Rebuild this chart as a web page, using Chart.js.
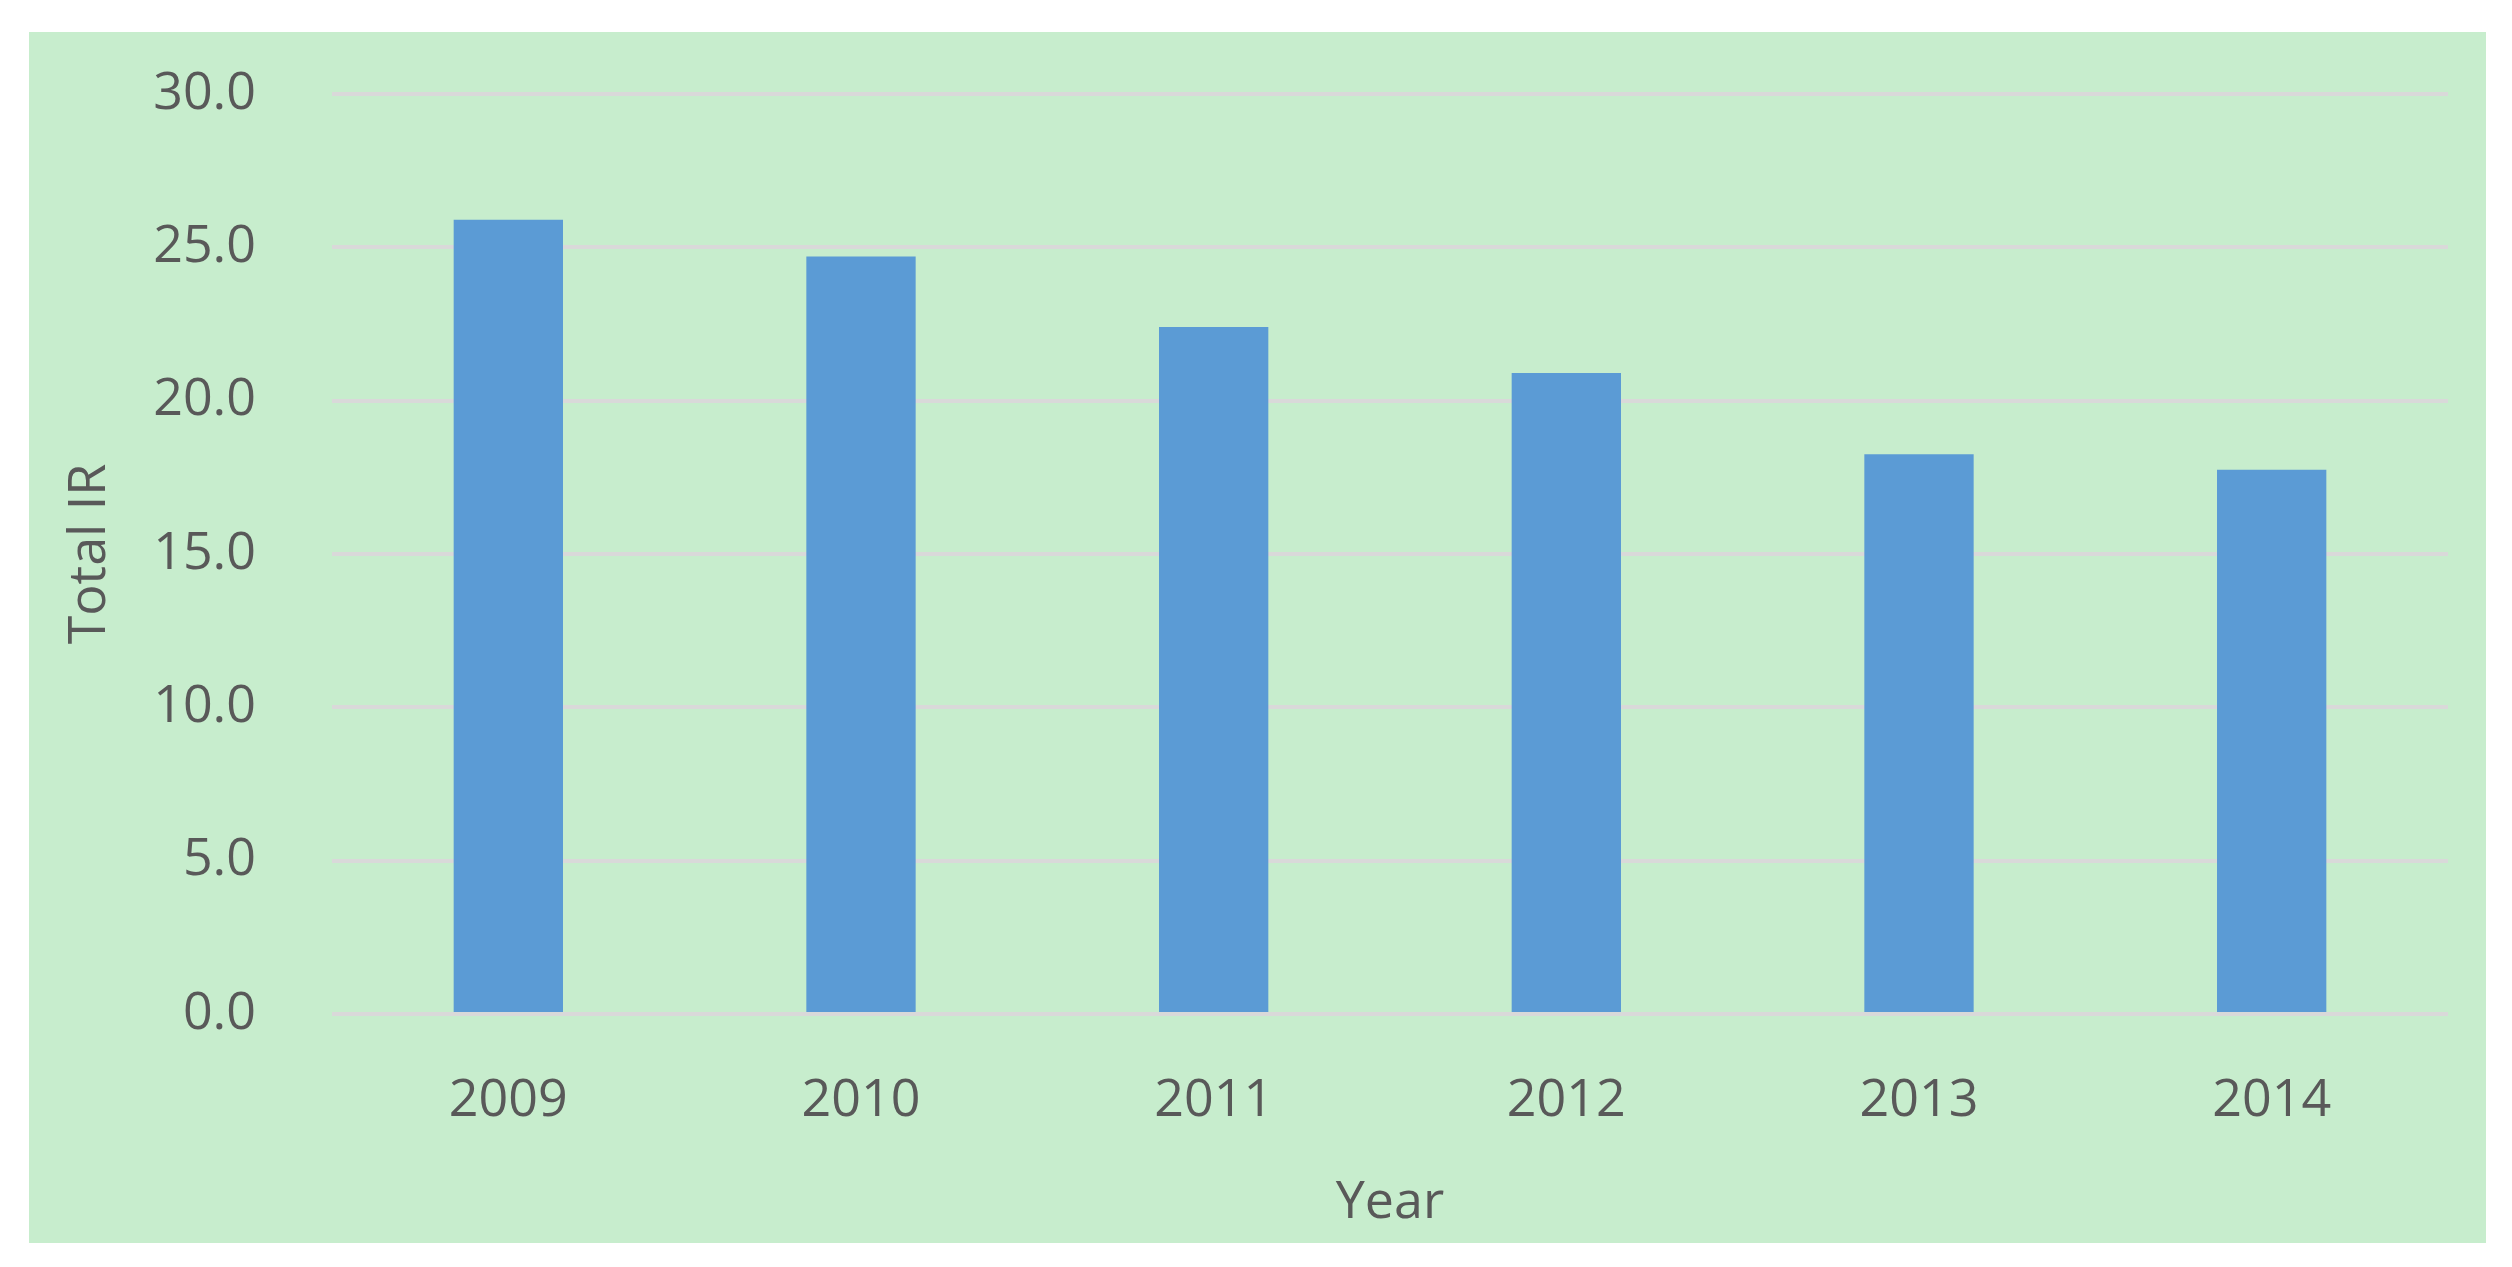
<!DOCTYPE html>
<html>
<head>
<meta charset="utf-8">
<script src="https://cdn.jsdelivr.net/npm/chart.js@4/dist/chart.umd.min.js"></script>
<style>
  body { margin: 0; background: #ffffff; }
  #wrap {
    position: absolute;
    left: 29px;
    top: 32px;
    width: 2457px;
    height: 1211px;
    background: #c7edcd;
  }
</style>
</head>
<body>
<div id="wrap"><canvas id="irChart"></canvas></div>
<script>
const years = ["2009", "2010", "2011", "2012", "2013", "2014"];
const totalIR = [25.9, 24.7, 22.4, 20.9, 18.25, 17.75];
const yTicks = [0, 5, 10, 15, 20, 25, 30];

document.addEventListener("DOMContentLoaded", function () {
  const textGrey = "#595959";
  const font = { family: "'Open Sans', sans-serif", size: 52 };

  const ctx = document.getElementById("irChart").getContext("2d");
  new Chart(ctx, {
    type: "bar",
    data: {
      labels: years,
      datasets: [
        {
          label: "Total IR",
          data: totalIR,
          backgroundColor: "#5b9bd5",
          borderWidth: 0,
          categoryPercentage: 1.0,
          barPercentage: 0.31,
        },
      ],
    },
    options: {
      responsive: true,
      maintainAspectRatio: false,
      animation: false,
      layout: {
        padding: { left: 0, right: 38, top: 62, bottom: 0 },
      },
      plugins: {
        legend: { display: false },
        tooltip: { enabled: false },
      },
      scales: {
        x: {
          grid: { display: false },
          border: { display: false },
          ticks: { color: textGrey, font: font, padding: 48 },
          title: {
            display: true,
            text: "Year",
            color: textGrey,
            font: font,
            padding: { top: 0, bottom: 9 },
          },
          afterFit: function (scale) {
            scale.height = 229;
          },
        },
        y: {
          min: 0,
          max: 30,
          afterBuildTicks: function (scale) {
            scale.ticks = yTicks.map((v) => ({ value: v }));
          },
          // invisible tick marks keep the gap between labels and plot
          grid: {
            color: "#d9d9d9",
            lineWidth: 4,
            drawTicks: true,
            tickLength: 76,
            tickColor: "rgba(0,0,0,0)",
          },
          border: { display: false },
          ticks: {
            color: textGrey,
            font: font,
            padding: 0,
            callback: (v) => Number(v).toFixed(1),
          },
          title: {
            display: true,
            text: "Total IR",
            color: textGrey,
            font: font,
            padding: { top: 30, bottom: 0 },
          },
          afterFit: function (scale) {
            scale.width = 303;
          },
        },
      },
    },
  });
});
</script>
</body>
</html>
